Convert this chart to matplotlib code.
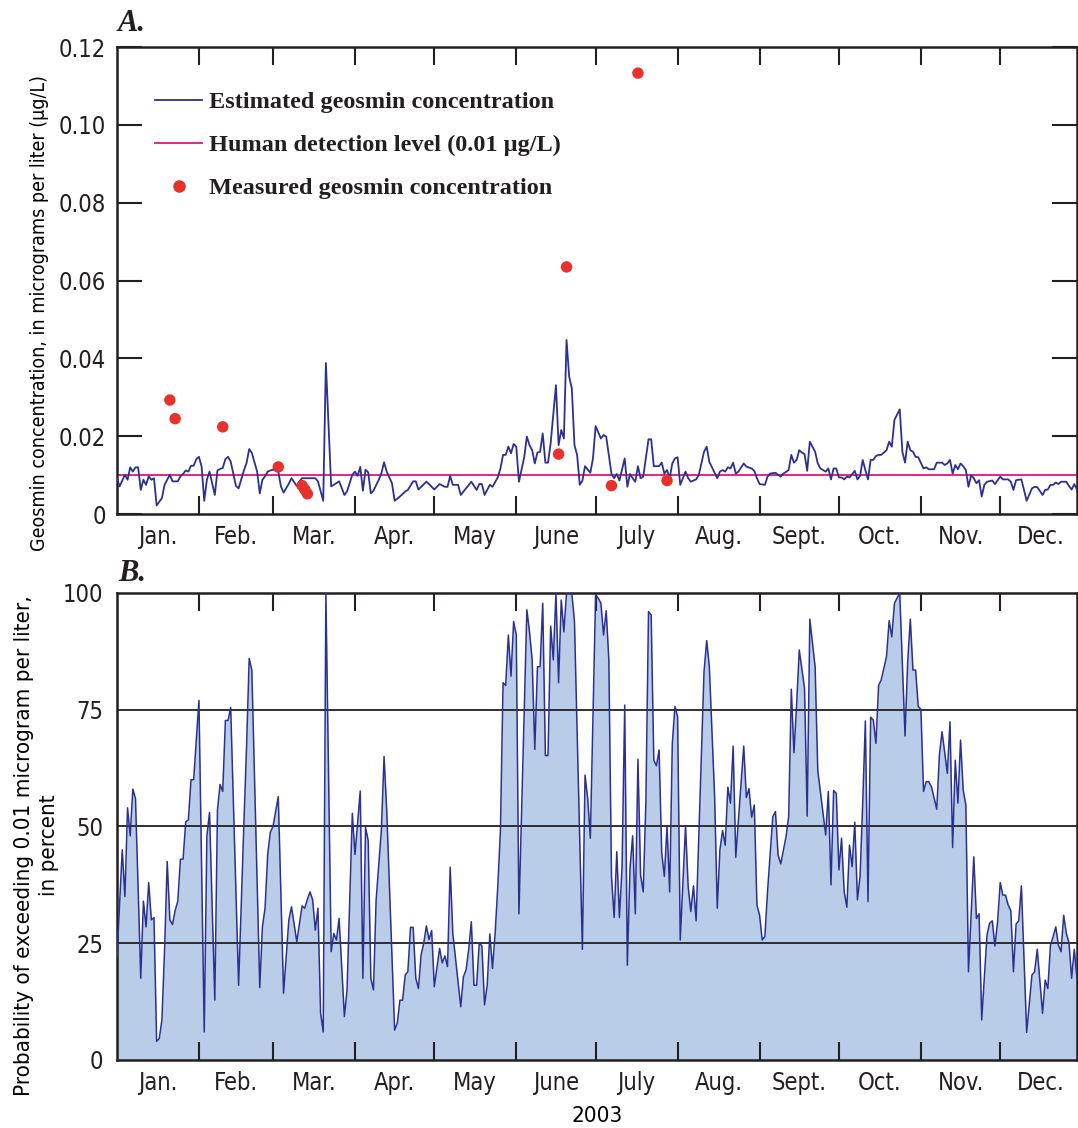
import numpy as np
import matplotlib
matplotlib.use("Agg")
import matplotlib.pyplot as plt
import matplotlib.font_manager as fm
from matplotlib.lines import Line2D
from matplotlib.legend_handler import HandlerLine2D
from matplotlib.ticker import FixedLocator, FuncFormatter

# Month names and first-day offsets (day 0 = Jan. 1, 2003)
months = ["Jan.", "Feb.", "Mar.", "Apr.", "May", "June", "July", "Aug.",
          "Sept.", "Oct.", "Nov.", "Dec."]
month_start = [0, 31, 59, 90, 120, 151, 181, 212, 243, 273, 304, 334, 365]

# Estimated daily geosmin concentration (ug/L)
conc_days = [0, 1, 3, 4, 5, 6, 7, 8, 9, 10, 11, 12, 13, 14, 15, 17, 18, 20, 21, 23, 24, 25, 26, 27, 28, 29,
             30, 31, 32, 33, 34, 35, 37, 38, 39, 40, 41, 42, 43, 45, 46, 48, 49, 50, 51, 53, 54, 55, 56, 57,
             58, 59, 61, 62, 63, 65, 66, 68, 69, 70, 72, 75, 76, 78, 79, 81, 82, 84, 86, 87, 89, 90, 91, 92,
             93, 94, 95, 96, 97, 99, 100, 101, 102, 104, 105, 107, 109, 110, 112, 113, 114, 117, 118, 120,
             121, 122, 124, 125, 126, 127, 129, 130, 132, 134, 136, 137, 138, 139, 141, 142, 144, 145, 146,
             147, 148, 149, 150, 151, 152, 154, 155, 156, 157, 158, 159, 160, 161, 162, 163, 164, 166, 167,
             168, 169, 170, 171, 172, 173, 174, 175, 176, 177, 179, 180, 181, 183, 184, 185, 187, 188, 189,
             190, 192, 193, 194, 195, 196, 197, 198, 199, 201, 202, 203, 205, 206, 207, 208, 209, 210, 211,
             212, 213, 215, 216, 217, 219, 220, 222, 223, 224, 227, 228, 229, 230, 231, 232, 233, 234, 235,
             237, 238, 240, 241, 242, 243, 245, 246, 247, 249, 251, 252, 254, 255, 256, 257, 258, 259, 260,
             261, 262, 263, 264, 265, 266, 268, 269, 270, 271, 272, 273, 274, 275, 276, 277, 279, 280, 281,
             282, 283, 284, 285, 286, 287, 288, 289, 290, 291, 292, 293, 294, 296, 297, 298, 299, 300, 301,
             302, 303, 305, 306, 307, 309, 310, 312, 313, 314, 315, 316, 317, 318, 319, 320, 321, 322, 323,
             324, 325, 326, 327, 328, 329, 331, 332, 334, 335, 337, 338, 339, 340, 342, 343, 344, 346, 347,
             348, 350, 351, 352, 353, 354, 355, 356, 357, 359, 360, 361, 362, 363]
conc_vals = [0.0092, 0.0071, 0.0101, 0.0088, 0.0120, 0.0109, 0.0120, 0.0120, 0.0062, 0.0088, 0.0075, 0.0097,
             0.0088, 0.0092, 0.0022, 0.0041, 0.0075, 0.0101, 0.0084, 0.0084, 0.0097, 0.0103, 0.0112, 0.0109,
             0.0124, 0.0124, 0.0141, 0.0147, 0.0122, 0.0034, 0.0088, 0.0109, 0.0049, 0.0112, 0.0116, 0.0118,
             0.0141, 0.0147, 0.0135, 0.0072, 0.0066, 0.0112, 0.0131, 0.0167, 0.0157, 0.0109, 0.0053, 0.0088,
             0.0097, 0.0109, 0.0112, 0.0114, 0.0109, 0.0071, 0.0055, 0.0078, 0.0092, 0.0072, 0.0084, 0.0092,
             0.0092, 0.0092, 0.0084, 0.0034, 0.0388, 0.0071, 0.0075, 0.0084, 0.0049, 0.0058, 0.0101, 0.0109,
             0.0098, 0.0121, 0.0060, 0.0114, 0.0107, 0.0053, 0.0060, 0.0088, 0.0105, 0.0133, 0.0109, 0.0079,
             0.0034, 0.0045, 0.0058, 0.0062, 0.0084, 0.0084, 0.0063, 0.0083, 0.0077, 0.0063, 0.0070, 0.0077,
             0.0070, 0.0070, 0.0098, 0.0075, 0.0075, 0.0049, 0.0066, 0.0083, 0.0062, 0.0077, 0.0077, 0.0049,
             0.0075, 0.0070, 0.0094, 0.0117, 0.0152, 0.0152, 0.0173, 0.0156, 0.0180, 0.0173, 0.0083, 0.0146,
             0.0199, 0.0177, 0.0164, 0.0130, 0.0158, 0.0160, 0.0207, 0.0132, 0.0132, 0.0182, 0.0331, 0.0177,
             0.0216, 0.0194, 0.0447, 0.0353, 0.0323, 0.0177, 0.0152, 0.0075, 0.0086, 0.0123, 0.0106, 0.0143,
             0.0226, 0.0194, 0.0203, 0.0199, 0.0103, 0.0092, 0.0103, 0.0086, 0.0143, 0.0070, 0.0103, 0.0092,
             0.0083, 0.0123, 0.0092, 0.0096, 0.0192, 0.0192, 0.0123, 0.0123, 0.0132, 0.0104, 0.0113, 0.0092,
             0.0130, 0.0143, 0.0146, 0.0075, 0.0109, 0.0092, 0.0083, 0.0089, 0.0100, 0.0160, 0.0173, 0.0134,
             0.0092, 0.0109, 0.0113, 0.0109, 0.0120, 0.0117, 0.0132, 0.0104, 0.0109, 0.0130, 0.0122, 0.0117,
             0.0111, 0.0092, 0.0077, 0.0075, 0.0096, 0.0104, 0.0106, 0.0096, 0.0104, 0.0113, 0.0152, 0.0132,
             0.0139, 0.0164, 0.0158, 0.0154, 0.0111, 0.0186, 0.0173, 0.0160, 0.0130, 0.0117, 0.0109, 0.0117,
             0.0089, 0.0117, 0.0117, 0.0094, 0.0094, 0.0089, 0.0096, 0.0094, 0.0111, 0.0089, 0.0098, 0.0139,
             0.0113, 0.0089, 0.0139, 0.0139, 0.0149, 0.0152, 0.0152, 0.0158, 0.0164, 0.0186, 0.0173, 0.0242,
             0.0269, 0.0160, 0.0132, 0.0186, 0.0164, 0.0160, 0.0147, 0.0146, 0.0117, 0.0120, 0.0115, 0.0115,
             0.0132, 0.0132, 0.0126, 0.0130, 0.0139, 0.0104, 0.0126, 0.0115, 0.0130, 0.0123, 0.0113, 0.0070,
             0.0100, 0.0092, 0.0079, 0.0087, 0.0045, 0.0075, 0.0083, 0.0086, 0.0077, 0.0096, 0.0089, 0.0089,
             0.0083, 0.0062, 0.0087, 0.0089, 0.0062, 0.0034, 0.0066, 0.0070, 0.0069, 0.0049, 0.0062, 0.0063,
             0.0075, 0.0075, 0.0081, 0.0077, 0.0083, 0.0083, 0.0072, 0.0063, 0.0077, 0.0063]

# Laboratory samples (ug/L)
meas_days = [20, 22, 40, 61, 70, 71, 72, 167, 170, 187, 197, 208]
meas_vals = [0.0293, 0.0245, 0.0224, 0.0121, 0.0073, 0.0063, 0.0052, 0.0154, 0.0635, 0.0073, 0.1133, 0.0086]

detection_level = 0.01

# Probability of exceeding 0.01 ug/L (percent)
prob_days = [0, 2, 3, 4, 5, 6, 7, 9, 10, 11, 12, 13, 14, 15, 16, 17, 18, 19, 20, 21, 22, 23, 24, 25, 26, 27,
             28, 29, 31, 33, 34, 35, 37, 38, 39, 40, 41, 42, 43, 46, 48, 49, 50, 51, 54, 55, 56, 57, 58, 59,
             61, 63, 65, 66, 68, 70, 71, 72, 73, 74, 75, 76, 77, 78, 79, 81, 82, 83, 84, 86, 87, 89, 90, 92,
             93, 94, 95, 96, 97, 98, 100, 101, 102, 105, 106, 107, 108, 109, 110, 111, 112, 113, 114, 115,
             116, 117, 118, 119, 120, 122, 123, 124, 125, 126, 127, 130, 131, 132, 133, 134, 135, 136, 137,
             138, 139, 140, 141, 142, 143, 144, 145, 146, 147, 148, 149, 150, 151, 152, 155, 156, 157, 158,
             159, 160, 161, 162, 163, 164, 165, 166, 167, 168, 169, 170, 172, 173, 176, 177, 178, 179, 181,
             182, 183, 184, 185, 186, 187, 188, 189, 190, 191, 192, 193, 194, 195, 196, 197, 198, 199, 200,
             201, 202, 203, 204, 205, 206, 207, 208, 209, 210, 211, 212, 213, 215, 216, 217, 218, 219, 222,
             223, 224, 226, 227, 228, 229, 230, 231, 232, 233, 234, 237, 238, 239, 240, 241, 242, 243, 244,
             245, 246, 248, 249, 250, 251, 253, 254, 255, 256, 257, 258, 260, 261, 262, 264, 265, 268, 269,
             270, 271, 272, 273, 274, 275, 276, 277, 278, 279, 280, 281, 282, 283, 284, 285, 286, 287, 288,
             289, 291, 292, 293, 294, 296, 298, 299, 300, 301, 302, 303, 304, 305, 306, 307, 308, 310, 311,
             312, 314, 315, 316, 317, 318, 319, 320, 321, 322, 324, 325, 326, 327, 329, 330, 331, 332, 333,
             334, 335, 336, 337, 338, 339, 340, 341, 342, 344, 346, 347, 348, 350, 351, 352, 353, 354, 355,
             356, 357, 358, 359, 360, 361, 362, 363]
prob_vals = [22, 45, 35, 54, 48, 58, 56, 17.5, 34, 28.5, 38, 30, 30.5, 4, 4.6, 8.6, 23.5, 42.5, 30, 29, 32, 34,
             43, 43, 51, 51.4, 60, 60, 77, 6, 48, 53, 12.8, 53.5, 59, 57.5, 72.7, 72.7, 75.5, 16, 50.7, 67,
             86, 83.5, 15.5, 28.5, 32.5, 44, 48.8, 50, 56.4, 14.3, 30, 32.8, 25.3, 33, 32.5, 34.4, 36, 34.3,
             27.8, 32.5, 10, 6, 100, 23.2, 27.1, 25.7, 30.3, 9.3, 15, 52.8, 44, 57.6, 17.5, 49.8, 47, 17.5,
             15, 34.3, 49.3, 65, 53.5, 6.4, 7.9, 12.8, 12.8, 18.2, 18.9, 28.4, 28.4, 17.5, 15.3, 22.5, 25,
             28.7, 25.8, 27.7, 15.7, 23.9, 20.8, 22.3, 20, 41.3, 27.1, 11.4, 17.8, 19.3, 23.6, 29.6, 16, 16,
             25.1, 24.4, 11.8, 16, 27, 19.6, 27.1, 37.1, 49, 80.8, 80.2, 91, 82.2, 93.9, 91, 31.3, 96.4, 91.7,
             85.7, 66.5, 84.2, 84.2, 97.8, 65.2, 65.2, 92.9, 85.7, 100, 80.8, 98.5, 91.7, 100, 100, 93.9,
             23.7, 61, 56, 47.5, 99.6, 98.9, 97.8, 91, 96.2, 85.7, 39.3, 30.5, 44.6, 30.5, 41.4, 76, 20.3, 41,
             48, 31.3, 64.4, 39.6, 36, 55, 96, 95.3, 64.2, 63, 66.4, 44.3, 39.3, 50.1, 36, 67.8, 75.7, 73.5,
             25.7, 50.1, 37.1, 31.8, 37.3, 29.8, 83.2, 89.8, 84.2, 56.4, 32.5, 45, 49.1, 46, 58.4, 55, 67.2,
             43.4, 67.2, 56.2, 58.1, 52, 54.6, 33.2, 31, 25.7, 26.4, 36, 52.1, 53.2, 43.9, 42, 47.8, 52.1,
             79.4, 65.8, 76, 87.8, 79.6, 52.2, 94.4, 84.2, 62, 48.2, 57.5, 37.5, 57.7, 57.1, 40.7, 47.5, 36,
             32.7, 46, 41.4, 50.9, 34.3, 39.3, 55, 72.6, 33.9, 73.4, 72.8, 67.8, 80.2, 81.4, 86.4, 94.1, 90.6,
             97.8, 100, 69.4, 85.3, 94.4, 83.5, 83.5, 75.7, 75.1, 57.5, 59.6, 59.6, 58.5, 53.7, 65.3, 70.3,
             61.4, 72.4, 45.5, 64.2, 55, 68.5, 57.8, 54.6, 18.9, 43.5, 30.3, 31.3, 8.6, 26.8, 29.3, 29.8,
             24.4, 29.6, 38, 35.3, 35.3, 33.2, 32, 18.9, 29.1, 29.8, 37.3, 5.9, 18.2, 18.9, 23.7, 10, 17.1,
             15.3, 24.6, 26.4, 28.5, 24.6, 23.2, 31, 27.1, 25.1, 17.5, 23.7, 17.5]
prob_grid = [25, 50, 75]

NAVY = "#2b3190"
MAGENTA = "#e4258f"
RED = "#e8312b"
FILL = "#b9cde8"
INK = "#231f20"


def pick_narrow_sans():
    """Return (family, stretch) of an installed condensed sans face, if any."""
    for f in fm.fontManager.ttflist:
        name = f.name
        if "Serif" in name or "Mono" in name:
            continue
        if f.style != "normal" or f.weight not in (400, "normal", "regular", "book"):
            continue
        condensed = str(f.stretch) in ("condensed", "semi-condensed", "extra-condensed", "75", "87.5")
        if condensed or "Narrow" in name or "Condensed" in name:
            return name, f.stretch
    return "Roboto", "normal"


narrow_family, narrow_stretch = pick_narrow_sans()
plt.rcParams["font.family"] = [narrow_family, "DejaVu Sans"]
plt.rcParams["font.stretch"] = narrow_stretch
plt.rcParams["text.color"] = INK
plt.rcParams["axes.edgecolor"] = INK
plt.rcParams["xtick.color"] = INK
plt.rcParams["ytick.color"] = INK


class RightDot(HandlerLine2D):
    """Legend handler that puts the single marker near the right end of the handle."""
    def get_xdata(self, legend, xdescent, ydescent, width, height, fontsize):
        xdata, _ = super().get_xdata(legend, xdescent, ydescent, width, height, fontsize)
        return xdata, np.array([-xdescent + 0.82 * width])


def month_axis(ax):
    """Tick marks at month boundaries, month names centred in each month."""
    ax.set_xlim(0, 363)
    ax.xaxis.set_major_locator(FixedLocator(month_start[1:-1]))
    ax.xaxis.set_major_formatter(FuncFormatter(lambda v, p: ""))
    mids = [(a + b) / 2 for a, b in zip(month_start[:-1], month_start[1:])]
    ax.xaxis.set_minor_locator(FixedLocator(mids))
    ax.set_xticklabels(months, minor=True)
    ax.tick_params(axis="x", which="major", direction="in", length=13, width=1.5,
                   top=True, bottom=True)
    ax.tick_params(axis="x", which="minor", length=0, pad=8, labelsize=17)
    for s in ax.spines.values():
        s.set_linewidth(1.8)


fig = plt.figure(figsize=(10.78, 11.28), dpi=100)
axA = fig.add_axes([0.1085, 0.5443, 0.8905, 0.4140])
axB = fig.add_axes([0.1085, 0.0603, 0.8905, 0.4140])

# --- A: concentrations
axA.axhline(detection_level, color=MAGENTA, lw=1.4, zorder=2)
axA.plot(conc_days, conc_vals, color=NAVY, lw=1.3, zorder=3)
axA.scatter(meas_days, meas_vals, s=68, color=RED, edgecolors="none", zorder=4)
axA.set_ylim(0, 0.12)
axA.set_yticks(np.arange(0, 0.1201, 0.02))
axA.yaxis.set_major_formatter(FuncFormatter(lambda v, p: "0" if abs(v) < 1e-9 else f"{v:.2f}"))
axA.tick_params(axis="y", direction="in", length=18, width=1.5, right=True, labelsize=17, pad=8)
axA.set_ylabel("Geosmin concentration, in micrograms per liter (µg/L)", fontsize=14)
axA.yaxis.set_label_coords(-0.071, 0.43)
month_axis(axA)

meas_handle = Line2D([], [], color=RED, marker="o", markersize=8, lw=0)
handles = [
    Line2D([], [], color=NAVY, lw=1.3),
    Line2D([], [], color=MAGENTA, lw=1.4),
    meas_handle,
]
labels = ["Estimated geosmin concentration",
          "Human detection level (0.01 µg/L)",
          "Measured geosmin concentration"]
axA.legend(handles, labels, loc="upper left", bbox_to_anchor=(0.03, 0.926), frameon=False,
           prop={"family": "Liberation Serif", "weight": "bold", "size": 17.5},
           handlelength=1.9, handletextpad=0.3, labelspacing=0.86, borderaxespad=0,
           handler_map={meas_handle: RightDot(numpoints=1)})

# --- B: exceedance probability
axB.fill_between(prob_days, 0, prob_vals, color=FILL, lw=0, zorder=1)
for g in prob_grid:
    axB.axhline(g, color=INK, lw=1.3, zorder=2)
axB.plot(prob_days, prob_vals, color=NAVY, lw=1.1, zorder=3)
axB.set_ylim(0, 100)
axB.set_yticks([0, 25, 50, 75, 100])
axB.tick_params(axis="y", length=0, labelsize=17, pad=10)
axB.set_ylabel("Probability of exceeding 0.01 microgram per liter,\nin percent",
               fontsize=16, linespacing=1.35)
axB.yaxis.set_label_coords(-0.06, 0.46)
axB.set_xlabel("2003", fontsize=16, labelpad=8)
month_axis(axB)

# Panel letters
fig.text(118 / 1078, 1 - 31 / 1128, "A.", family="Liberation Serif", weight="bold",
         style="italic", fontsize=22, va="baseline")
fig.text(118 / 1078, 1 - 581 / 1128, "B.", family="Liberation Serif", weight="bold",
         style="italic", fontsize=22, va="baseline")

fig.savefig("out.png", dpi=100)
